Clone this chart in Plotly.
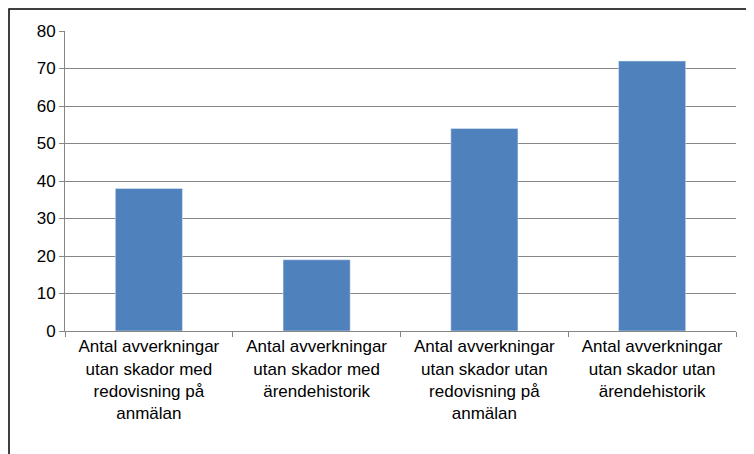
import plotly.graph_objects as go

categories = [
    "Antal avverkningar<br>utan skador med<br>redovisning på<br>anmälan",
    "Antal avverkningar<br>utan skador med<br>ärendehistorik",
    "Antal avverkningar<br>utan skador utan<br>redovisning på<br>anmälan",
    "Antal avverkningar<br>utan skador utan<br>ärendehistorik",
]
values = [38, 19, 54, 72]
y_ticks = [0, 10, 20, 30, 40, 50, 60, 70, 80]

fig = go.Figure(go.Bar(x=categories, y=values, marker_color="#4F81BD", width=0.4))

# outer frame around the whole chart
L, T, W, H = 57, 23, 671, 300
fig.add_shape(type="rect", xref="paper", yref="paper",
              x0=(1 - L) / W, x1=(753 - L) / W,
              y0=(T + H - 453) / H, y1=(T + H - 1) / H,
              line=dict(color="#000000", width=1.5))

fig.update_layout(
    width=754, height=454,
    margin=dict(l=L, r=754 - L - W, t=T, b=454 - T - H, autoexpand=False),
    paper_bgcolor="white", plot_bgcolor="white",
    showlegend=False,
    font=dict(family="Liberation Sans", size=17, color="#000000"),
    bargap=0.6,
)
fig.update_xaxes(showline=True, linecolor="#868686", ticks="outside",
                 tickson="boundaries", ticklen=5, tickcolor="#868686",
                 automargin=False)
fig.update_yaxes(range=[0, 80], tickvals=y_ticks, showline=True,
                 linecolor="#868686", ticks="outside", ticklen=5,
                 tickcolor="#868686", showgrid=True, gridcolor="#868686",
                 zeroline=False, automargin=False)

fig.write_html("out.html")
